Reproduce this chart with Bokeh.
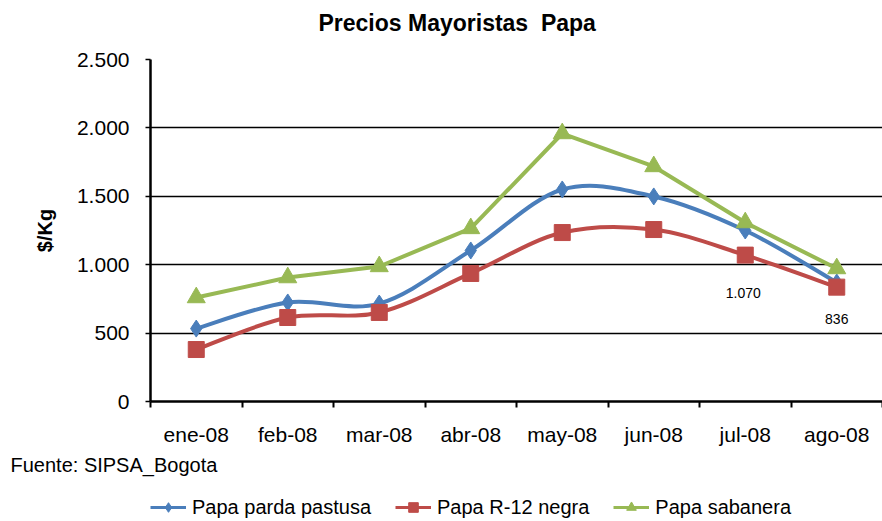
from bokeh.plotting import figure
from bokeh.layouts import column
from bokeh.models import Range1d, FixedTicker, Label, Legend, LegendItem, ColumnDataSource, Title
from bokeh.embed import file_html
from bokeh.resources import INLINE

months = ["ene-08", "feb-08", "mar-08", "abr-08", "may-08", "jun-08", "jul-08", "ago-08"]
parda_pastusa = [533, 724, 716, 1104, 1550, 1499, 1250, 870]
r12_negra = [380, 614, 651, 936, 1235, 1257, 1070, 836]
sabanera = [760, 906, 987, 1265, 1959, 1718, 1308, 972]
y_ticks = [0, 500, 1000, 1500, 2000, 2500]
y_tick_labels = ["0", "500", "1.000", "1.500", "2.000", "2.500"]
series_names = ["Papa parda pastusa", "Papa R-12 negra", "Papa sabanera"]

FONT = "Liberation Sans"
BLUE = "#4A7EBB"
RED = "#BE4B48"
GREEN = "#98B954"

xs = [i + 0.5 for i in range(len(months))]


def bare(fig):
    fig.outline_line_color = None
    fig.background_fill_color = "white"
    fig.border_fill_color = "white"
    fig.grid.grid_line_color = None


# ---------- header (title) ----------
p0 = figure(width=882, height=45, output_backend="svg", toolbar_location=None,
            x_axis_location=None, y_axis_location=None,
            x_range=Range1d(0, 732), y_range=Range1d(0, 45),
            min_border_left=150, min_border_right=0, min_border_top=0, min_border_bottom=0)
bare(p0)
p0.add_layout(Label(x=168, y=23, text="Precios Mayoristas\u00a0 Papa", text_align="left",
                    text_baseline="middle", text_font=FONT, text_font_size="23px",
                    text_font_style="bold", text_color="black"))

# ---------- main chart ----------
p = figure(width=882, height=435, output_backend="svg", toolbar_location=None,
           x_range=Range1d(0, len(months)), y_range=Range1d(0, 2500),
           min_border_left=150, min_border_right=0, min_border_top=14, min_border_bottom=79)
p.outline_line_color = None
p.background_fill_color = "white"
p.border_fill_color = "white"

# x axis
p.xaxis.ticker = FixedTicker(ticks=xs, minor_ticks=list(range(len(months) + 1)))
p.xaxis.major_label_overrides = {x: m for x, m in zip(xs, months)}
p.xaxis.major_tick_out = 0
p.xaxis.major_tick_in = 0
p.xaxis.minor_tick_out = 6
p.xaxis.minor_tick_in = 0
p.xaxis.minor_tick_line_color = "black"
p.xaxis.minor_tick_line_width = 2
p.xaxis.axis_line_color = "black"
p.xaxis.axis_line_width = 2.5
p.xaxis.major_label_text_font = FONT
p.xaxis.major_label_text_font_size = "21px"
p.xaxis.major_label_text_color = "black"
p.xaxis.major_label_standoff = 15
p.xgrid.grid_line_color = None

# y axis
p.yaxis.ticker = FixedTicker(ticks=y_ticks)
p.yaxis.major_label_overrides = {t: l for t, l in zip(y_ticks, y_tick_labels)}
p.yaxis.minor_tick_line_color = None
p.yaxis.major_tick_out = 5
p.yaxis.major_tick_in = 0
p.yaxis.major_tick_line_color = "black"
p.yaxis.major_tick_line_width = 1.5
p.yaxis.axis_line_color = "black"
p.yaxis.axis_line_width = 2.5
p.yaxis.major_label_text_font = FONT
p.yaxis.major_label_text_font_size = "21px"
p.yaxis.major_label_text_color = "black"
p.yaxis.major_label_standoff = 16
p.yaxis.axis_label = "$/Kg"
p.yaxis.axis_label_text_font = FONT
p.yaxis.axis_label_text_font_size = "20px"
p.yaxis.axis_label_text_font_style = "bold"
p.yaxis.axis_label_text_color = "black"
p.yaxis.axis_label_standoff = 18
p.ygrid.grid_line_color = "black"
p.ygrid.grid_line_width = 1.5


def smooth_segments(x, y):
    # Catmull-Rom style bezier segments (Excel "smoothed line")
    n = len(x)
    d = dict(x0=[], y0=[], x1=[], y1=[], cx0=[], cy0=[], cx1=[], cy1=[])
    for i in range(n - 1):
        xm, ym = (x[i - 1], y[i - 1]) if i > 0 else (x[i], y[i])
        xp, yp = (x[i + 2], y[i + 2]) if i + 2 < n else (x[i + 1], y[i + 1])
        d["x0"].append(x[i]); d["y0"].append(y[i])
        d["x1"].append(x[i + 1]); d["y1"].append(y[i + 1])
        d["cx0"].append(x[i] + (x[i + 1] - xm) / 6); d["cy0"].append(y[i] + (y[i + 1] - ym) / 6)
        d["cx1"].append(x[i + 1] - (xp - x[i]) / 6); d["cy1"].append(y[i + 1] - (yp - y[i]) / 6)
    return ColumnDataSource(d)


p.bezier(x0="x0", y0="y0", x1="x1", y1="y1", cx0="cx0", cy0="cy0", cx1="cx1", cy1="cy1",
         source=smooth_segments(xs, parda_pastusa), line_color=BLUE, line_width=4)
p.bezier(x0="x0", y0="y0", x1="x1", y1="y1", cx0="cx0", cy0="cy0", cx1="cx1", cy1="cy1",
         source=smooth_segments(xs, r12_negra), line_color=RED, line_width=4)
p.line(xs, sabanera, line_color=GREEN, line_width=4)

p.scatter(xs, parda_pastusa, marker="diamond", size=17, fill_color=BLUE, line_color=BLUE)
p.scatter(xs, r12_negra, marker="square", size=16, fill_color=RED, line_color=RED)
p.scatter(xs, sabanera, marker="triangle", size=18, fill_color=GREEN, line_color=GREEN)


def fmt(v):
    return f"{v:,}".replace(",", ".")


for i in (6, 7):
    p.add_layout(Label(x=xs[i], y=r12_negra[i], text=fmt(r12_negra[i]), y_offset=-38 if i == 6 else -32,
                       x_offset=-2 if i == 6 else 0,
                       text_align="center", text_baseline="middle",
                       text_font=FONT, text_font_size="14px", text_color="black"))

src = Title(text="Fuente: SIPSA_Bogota", align="left", offset=-140, standoff=6,
            text_font=FONT, text_font_size="20px", text_font_style="normal", text_color="black")
p.add_layout(src, "below")

# ---------- footer (legend) ----------
p2 = figure(width=882, height=41, output_backend="svg", toolbar_location=None,
            x_axis_location=None, y_axis_location=None,
            x_range=Range1d(-3, -2), y_range=Range1d(-3, -2),
            min_border_left=150, min_border_right=0, min_border_top=0, min_border_bottom=0)
bare(p2)
l1 = p2.line(xs, parda_pastusa, line_color=BLUE, line_width=3)
m1 = p2.scatter(xs, parda_pastusa, marker="diamond", fill_color=BLUE, line_color=BLUE)
l2 = p2.line(xs, r12_negra, line_color=RED, line_width=3)
m2 = p2.scatter(xs, r12_negra, marker="square", fill_color=RED, line_color=RED)
l3 = p2.line(xs, sabanera, line_color=GREEN, line_width=3)
m3 = p2.scatter(xs, sabanera, marker="triangle", fill_color=GREEN, line_color=GREEN)

legend = Legend(items=[
    LegendItem(label=series_names[0], renderers=[l1, m1]),
    LegendItem(label=series_names[1], renderers=[l2, m2]),
    LegendItem(label=series_names[2], renderers=[l3, m3]),
], orientation="horizontal", location=(0, 2), label_text_font=FONT, label_text_font_size="20px",
    label_text_color="black", glyph_width=36, glyph_height=24, spacing=24, padding=0, margin=0,
    border_line_color=None, background_fill_alpha=0, label_standoff=6)
p2.add_layout(legend, "center")

layout = column(p0, p, p2, spacing=0)
open("out.html", "w").write(file_html(layout, INLINE))
